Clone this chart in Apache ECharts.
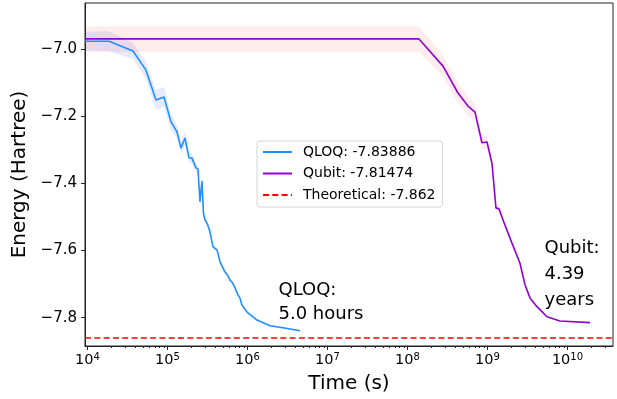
<!DOCTYPE html>
<html><head><meta charset="utf-8">
<script src="https://cdn.jsdelivr.net/npm/echarts@6/dist/echarts.min.js"></script>
<style>html,body{margin:0;padding:0;background:#fff}#c{width:617px;height:399px}</style>
</head><body><div id="c"></div><script>
const FONT = 'DejaVu Sans';

// QLOQ mean energy vs time (s) and its spread
const qloqTime = [9311, 18578, 37068, 53827, 71779, 90365, 110662, 131522, 147571, 165577, 185780, 202302, 226986, 240436, 254683, 269774, 281838, 294440, 317000, 339625, 359749, 370681, 415911, 440000, 452898, 479733, 523600, 560000, 603948, 650000, 698232, 760326, 800000, 853100, 986279, 1315225, 1909853, 2779713, 4528976];
const qloqEnergy = [-6.977, -6.977, -7.006, -7.063, -7.152, -7.143, -7.217, -7.247, -7.295, -7.265, -7.324, -7.325, -7.354, -7.357, -7.455, -7.393, -7.490, -7.509, -7.522, -7.545, -7.540, -7.589, -7.598, -7.620, -7.634, -7.637, -7.664, -7.672, -7.688, -7.696, -7.711, -7.732, -7.740, -7.762, -7.783, -7.807, -7.824, -7.830, -7.8389];
const qloqStd = [0.028, 0.030, 0.024, 0.026, 0.030, 0.030, 0.024, 0.020, 0.020, 0.020, 0.016, 0.015, 0.014, 0.012, 0.010, 0.010, 0.008, 0.007, 0.006, 0.006, 0.006, 0.005, 0.005, 0.005, 0.004, 0.004, 0.004, 0.004, 0.003, 0.003, 0.003, 0.003, 0.003, 0.002, 0.002, 0.002, 0.002, 0.002, 0.002];

// Qubit mean energy vs time (s) and its spread
const qubitTime = [9311, 139300000, 278000000, 427600000, 570200000, 698200000, 853600000, 986200000, 1138000000, 1276000000, 1393000000, 1563000000, 2023000000, 2113000000, 2547000000, 2944000000, 3397000000, 4159000000, 5546000000, 8054000000, 19110000000];
const qubitEnergy = [-6.970, -6.970, -7.051, -7.131, -7.170, -7.188, -7.279, -7.277, -7.340, -7.473, -7.476, -7.509, -7.578, -7.578, -7.638, -7.702, -7.741, -7.767, -7.797, -7.810, -7.81474];
const qubitStd = [0.038, 0.038, 0.032, 0.030, 0.028, 0.026, 0.022, 0.020, 0.015, 0.010, 0.009, 0.008, 0.006, 0.006, 0.005, 0.004, 0.004, 0.003, 0.003, 0.002, 0.002];

const theoretical = -7.862;
const seriesNames = ['QLOQ: -7.83886', 'Qubit: -7.81474', 'Theoretical: -7.862'];
const xMajorTicks = [1e4, 1e5, 1e6, 1e7, 1e8, 1e9, 1e10];
const yTicks = [-7.8, -7.6, -7.4, -7.2, -7.0];
const xRange = [9311, 3.707e10];
const yRange = [-7.8842, -6.8631];
const annotations = [
  { text: 'QLOQ:\n5.0 hours', t: 2.44e6, e: -7.753, lh: 24 },
  { text: 'Qubit:\n4.39\nyears', t: 5.16e9, e: -7.672, lh: 26 }
];

const xMinorTicks = [];
for (let d = 3; d <= 10; d++) for (let m = 2; m <= 9; m++) {
  const v = m * Math.pow(10, d);
  if (v > xRange[0] && v < xRange[1]) xMinorTicks.push(v);
}

function bandSeries(times, mean, std, color) {
  return {
    type: 'custom', silent: true, z: 1, clip: true,
    data: times.map((t, i) => [t, mean[i]]),
    encode: { x: 0, y: 1 },
    renderItem: function (params, api) {
      if (params.dataIndex !== 0) return null;
      const pts = [];
      for (let i = 0; i < times.length; i++) pts.push(api.coord([times[i], mean[i] + std[i]]));
      for (let i = times.length - 1; i >= 0; i--) pts.push(api.coord([times[i], mean[i] - std[i]]));
      return { type: 'polygon', shape: { points: pts }, style: { fill: color, stroke: null } };
    }
  };
}

const chart = echarts.init(document.getElementById('c'), null, { renderer: 'canvas' });
const option = {
  animation: false,
  backgroundColor: '#fff',
  textStyle: { fontFamily: FONT },
  grid: { left: 85, right: 4, top: 3, bottom: 53, show: true, borderColor: '#222', borderWidth: 1, backgroundColor: 'transparent' },
  xAxis: [{
    type: 'log', min: xRange[0], max: xRange[1], position: 'bottom',
    name: 'Time (s)', nameLocation: 'middle', nameGap: 28,
    nameTextStyle: { fontSize: 20, color: '#000', fontFamily: FONT },
    axisLine: { show: true, lineStyle: { color: '#222', width: 1 } },
    splitLine: { show: false },
    axisTick: { show: true, length: 4, customValues: xMajorTicks, lineStyle: { color: '#222' } },
    axisLabel: {
      customValues: xMajorTicks, margin: 6, color: '#000',
      formatter: function (v) { const e = Math.round(Math.log10(v)); return '{b|10}{s|' + e + '}'; },
      rich: {
        b: { fontSize: 14.5, fontFamily: FONT, color: '#000', verticalAlign: 'bottom', lineHeight: 16 },
        s: { fontSize: 10, fontFamily: FONT, color: '#000', verticalAlign: 'bottom', lineHeight: 12, padding: [0, 0, 6, 0] }
      }
    }
  }, {
    type: 'log', min: xRange[0], max: xRange[1], position: 'bottom', gridIndex: 0,
    axisLine: { show: false }, splitLine: { show: false }, axisLabel: { show: false },
    axisTick: { show: true, length: 2, customValues: xMinorTicks, lineStyle: { color: '#222' } }
  }],
  yAxis: {
    type: 'value', min: yRange[0], max: yRange[1],
    name: 'Energy (Hartree)', nameLocation: 'middle', nameGap: 48,
    nameTextStyle: { fontSize: 20, color: '#000', fontFamily: FONT },
    axisLine: { show: true, lineStyle: { color: '#222', width: 1 } },
    splitLine: { show: false },
    axisTick: { show: true, length: 4, customValues: yTicks, lineStyle: { color: '#222' } },
    axisLabel: {
      customValues: yTicks, margin: 8, fontSize: 15, color: '#000', fontFamily: FONT,
      formatter: function (v) { return v.toFixed(1).replace('-', '\u2212'); }
    }
  },
  legend: {
    orient: 'vertical', left: 257, top: 141,
    data: seriesNames,
    itemWidth: 29, itemHeight: 14, itemGap: 7.5,
    padding: [4, 7, 5, 5],
    itemStyle: { opacity: 0 },
    backgroundColor: '#fff', borderColor: '#d4d4d4', borderWidth: 1, borderRadius: 3,
    textStyle: { fontSize: 14, color: '#000', fontFamily: FONT, padding: [0, 0, 0, 6] },
    selectedMode: false
  },
  series: [
    bandSeries(qubitTime, qubitEnergy, qubitStd, 'rgba(255,0,0,0.075)'),
    bandSeries(qloqTime, qloqEnergy, qloqStd, 'rgba(40,60,230,0.11)'),
    {
      name: seriesNames[0], type: 'line', z: 3,
      data: qloqTime.map((t, i) => [t, qloqEnergy[i]]),
      showSymbol: false, symbol: 'none',
      lineStyle: { color: '#1E90FF', width: 1.6 }, itemStyle: { color: '#1E90FF' }
    },
    {
      name: seriesNames[1], type: 'line', z: 3,
      data: qubitTime.map((t, i) => [t, qubitEnergy[i]]),
      showSymbol: false, symbol: 'none',
      lineStyle: { color: '#9400D3', width: 1.6 }, itemStyle: { color: '#9400D3' }
    },
    {
      name: seriesNames[2], type: 'line', z: 3, data: [],
      showSymbol: false, symbol: 'none',
      lineStyle: { color: '#ff0000', width: 1.6, type: [6, 3.3] }, itemStyle: { color: '#ff0000' },
      markLine: {
        silent: true, symbol: 'none', label: { show: false },
        lineStyle: { color: '#ff0000', width: 1.6, type: [6, 3.3] },
        data: [{ yAxis: theoretical }]
      }
    }
  ]
};
chart.setOption(option);

const graphics = annotations.map(a => {
  const p = chart.convertToPixel({ gridIndex: 0 }, [a.t, a.e]);
  return {
    type: 'text', x: p[0], y: p[1], z: 10,
    style: { text: a.text, fontSize: 18, fontFamily: FONT, fill: '#000', textAlign: 'left', textVerticalAlign: 'middle', lineHeight: a.lh }
  };
});
chart.setOption({ graphic: graphics });
</script></body></html>
